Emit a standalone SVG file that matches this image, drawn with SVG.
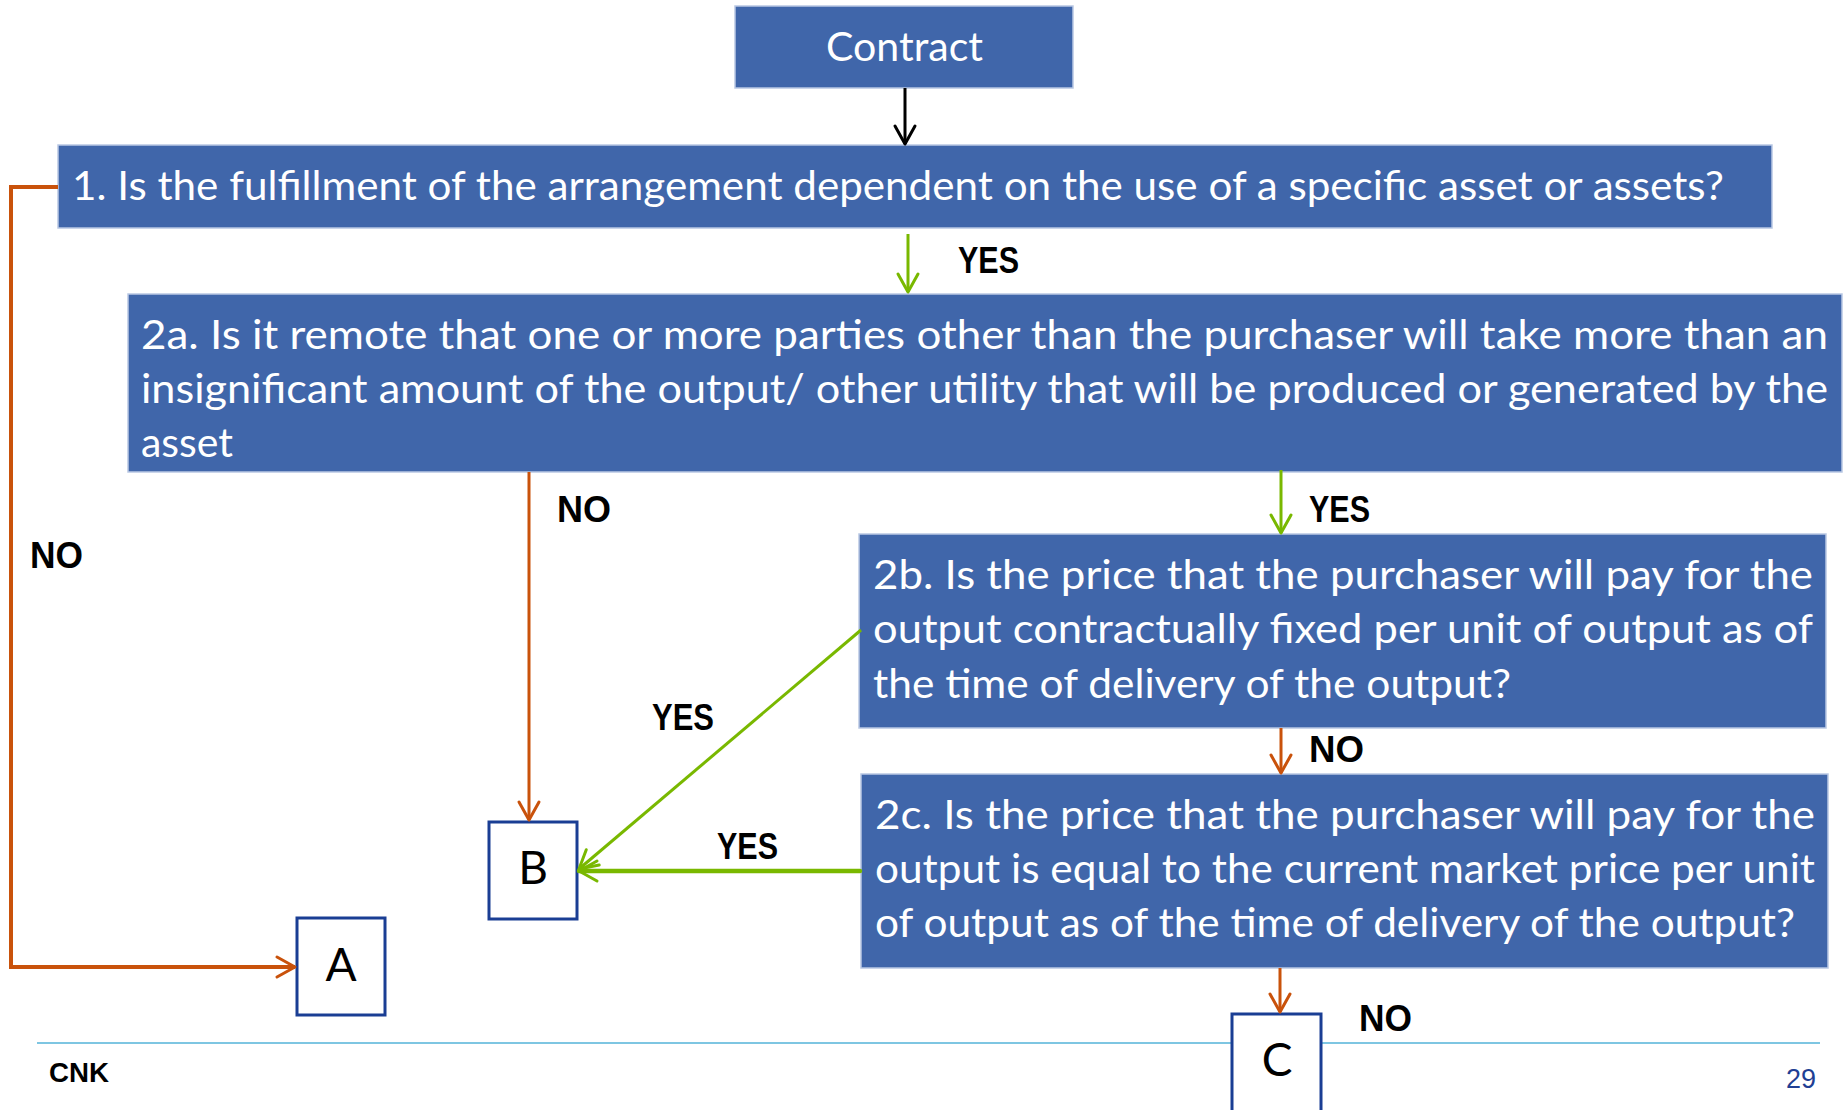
<svg xmlns="http://www.w3.org/2000/svg" width="1847" height="1110" viewBox="0 0 1847 1110">
  <style>
    .box { fill: #4066AA; stroke: #B9C8E3; stroke-width: 1.5; }
    .bt { font-family: Lato, "Open Sans", "Liberation Sans", sans-serif; font-size: 40px; fill: #FFFFFF; }
    .end { fill: #FFFFFF; stroke: #1A3E94; stroke-width: 3; }
    .et { font-family: Lato, "Liberation Sans", sans-serif; font-size: 46px; fill: #000000; text-anchor: middle; }
    .lbl { font-family: "Liberation Sans", Arial, sans-serif; font-weight: bold; font-size: 36px; fill: #000000; }
    .or { fill: none; stroke: #C9520B; stroke-width: 3; }
    .gr { fill: none; stroke: #79B800; stroke-width: 3; }
    .bk { fill: none; stroke: #000000; stroke-width: 3; }
  </style>
  <defs>
    <marker id="mOr" markerUnits="userSpaceOnUse" markerWidth="24" markerHeight="26" refX="20" refY="12" orient="auto" overflow="visible">
      <path d="M2,2 L20,12 L2,22" fill="none" stroke="#C9520B" stroke-width="3" stroke-linecap="round" stroke-linejoin="round"/>
    </marker>
    <marker id="mGr" markerUnits="userSpaceOnUse" markerWidth="24" markerHeight="26" refX="20" refY="12" orient="auto" overflow="visible">
      <path d="M2,2 L20,12 L2,22" fill="none" stroke="#79B800" stroke-width="3" stroke-linecap="round" stroke-linejoin="round"/>
    </marker>
    <marker id="mBk" markerUnits="userSpaceOnUse" markerWidth="24" markerHeight="26" refX="20" refY="12" orient="auto" overflow="visible">
      <path d="M2,2 L20,12 L2,22" fill="none" stroke="#000000" stroke-width="3" stroke-linecap="round" stroke-linejoin="round"/>
    </marker>
  </defs>

  <g id="footer">
    <line x1="37" y1="1043" x2="1820" y2="1043" stroke="#7EC6E2" stroke-width="2"/>
    <text x="49" y="1082" font-family="'Liberation Sans', Arial, sans-serif" font-weight="bold" font-size="28" textLength="60" lengthAdjust="spacingAndGlyphs" fill="#000000">CNK</text>
    <text x="1786" y="1088" font-family="'Liberation Sans', Arial, sans-serif" font-size="28" textLength="30" lengthAdjust="spacingAndGlyphs" fill="#1F3F94">29</text>
  </g>

  <g id="contract">
    <rect class="box" x="735" y="6" width="338" height="82"/>
    <text class="bt" x="826" y="61" textLength="157" lengthAdjust="spacingAndGlyphs">Contract</text>
  </g>

  <g id="q1">
    <rect class="box" x="58" y="145" width="1714" height="83"/>
    <text class="bt" x="72" y="200" textLength="1652" lengthAdjust="spacingAndGlyphs">1. Is the fulfillment of the arrangement dependent on the use of a specific asset or assets?</text>
  </g>

  <g id="q2a">
    <rect class="box" x="128" y="294" width="1714" height="178"/>
    <text class="bt" x="141" y="349" textLength="1687" lengthAdjust="spacingAndGlyphs">2a. Is it remote that one or more parties other than the purchaser will take more than an</text>
    <text class="bt" x="141" y="403" textLength="1687" lengthAdjust="spacingAndGlyphs">insignificant amount of the output/ other utility that will be produced or generated by the</text>
    <text class="bt" x="141" y="457" textLength="92" lengthAdjust="spacingAndGlyphs">asset</text>
  </g>

  <g id="q2b">
    <rect class="box" x="859" y="534" width="967" height="194"/>
    <text class="bt" x="873" y="589" textLength="940" lengthAdjust="spacingAndGlyphs">2b. Is the price that the purchaser will pay for the</text>
    <text class="bt" x="873" y="643" textLength="940" lengthAdjust="spacingAndGlyphs">output contractually fixed per unit of output as of</text>
    <text class="bt" x="873" y="698" textLength="638" lengthAdjust="spacingAndGlyphs">the time of delivery of the output?</text>
  </g>

  <g id="q2c">
    <rect class="box" x="861" y="774" width="967" height="194"/>
    <text class="bt" x="875" y="829" textLength="940" lengthAdjust="spacingAndGlyphs">2c. Is the price that the purchaser will pay for the</text>
    <text class="bt" x="875" y="883" textLength="940" lengthAdjust="spacingAndGlyphs">output is equal to the current market price per unit</text>
    <text class="bt" x="875" y="937" textLength="920" lengthAdjust="spacingAndGlyphs">of output as of the time of delivery of the output?</text>
  </g>

  <g id="A">
    <rect class="end" x="297" y="918" width="88" height="97"/>
    <text class="et" x="341" y="981">A</text>
  </g>

  <g id="B">
    <rect class="end" x="489" y="822" width="88" height="97"/>
    <text class="et" x="533" y="884">B</text>
  </g>

  <g id="C">
    <rect class="end" x="1232" y="1014" width="89" height="100"/>
    <text class="et" x="1277" y="1076">C</text>
  </g>

  <g id="connectors">
    <line class="bk" x1="905" y1="88" x2="905" y2="144" marker-end="url(#mBk)"/>
    <line class="gr" x1="908" y1="234" x2="908" y2="292" marker-end="url(#mGr)"/>
    <polyline class="or" style="stroke-width:4" points="58,187 11,187 11,967 295,967" marker-end="url(#mOr)"/>
    <line class="or" x1="529" y1="472" x2="529" y2="820" marker-end="url(#mOr)"/>
    <line class="gr" x1="1281" y1="470" x2="1281" y2="533" marker-end="url(#mGr)"/>
    <line class="or" x1="1281" y1="728" x2="1281" y2="773" marker-end="url(#mOr)"/>
    <line class="or" x1="1280" y1="968" x2="1280" y2="1012" marker-end="url(#mOr)"/>
    <line class="gr" x1="861" y1="630" x2="579" y2="869" marker-end="url(#mGr)"/>
    <line class="gr" style="stroke-width:4.5;stroke-linecap:round" x1="860" y1="871" x2="579" y2="871" marker-end="url(#mGr)"/>
  </g>

  <g id="labels">
    <text class="lbl" x="958" y="273" textLength="61" lengthAdjust="spacingAndGlyphs">YES</text>
    <text class="lbl" x="30" y="568" textLength="53" lengthAdjust="spacingAndGlyphs">NO</text>
    <text class="lbl" x="557" y="522" textLength="54" lengthAdjust="spacingAndGlyphs">NO</text>
    <text class="lbl" x="1309" y="522" textLength="61" lengthAdjust="spacingAndGlyphs">YES</text>
    <text class="lbl" x="652" y="730" textLength="62" lengthAdjust="spacingAndGlyphs">YES</text>
    <text class="lbl" x="1309" y="762" textLength="55" lengthAdjust="spacingAndGlyphs">NO</text>
    <text class="lbl" x="717" y="859" textLength="61" lengthAdjust="spacingAndGlyphs">YES</text>
    <text class="lbl" x="1359" y="1031" textLength="53" lengthAdjust="spacingAndGlyphs">NO</text>
  </g>
</svg>
